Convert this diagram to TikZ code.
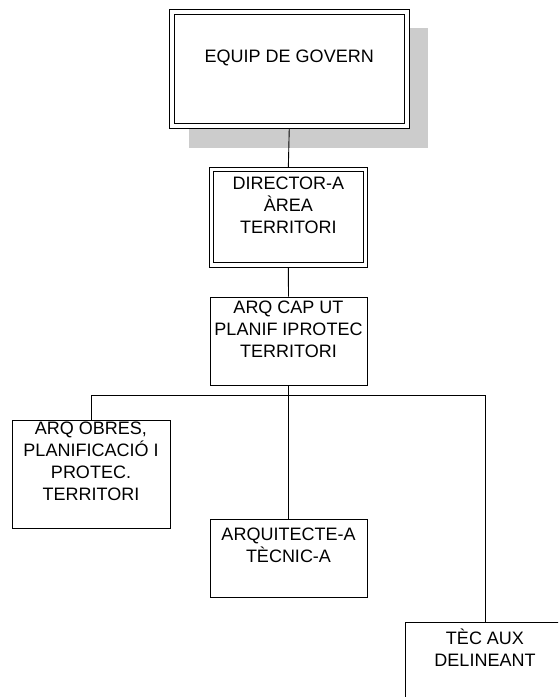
\documentclass[tikz,border=0pt]{standalone}
\usepackage{fontspec}
\setmainfont{Liberation Sans}
\newcommand{\bxt}[4]{\begin{minipage}[t][#2][t]{#1}\centering\vspace*{#3}#4\end{minipage}}
\tikzset{
  shade box/.style={fill=black!20, draw=none},
  sglbox/.style={draw, line width=0.9pt, fill=white, inner sep=0pt, rectangle},
  inner frame/.style={draw, line width=0.9pt},
  conn/.style={line width=0.9pt},
}
\begin{document}
\begin{tikzpicture}[x=1pt,y=-1pt,font=\fontsize{18}{22}\selectfont]
\useasboundingbox (0,0) rectangle (558,697);
\clip (0,0) rectangle (558,697);
% shadow
\fill[shade box] (189,28) rectangle (428,148);
% boxes
\node[sglbox] (gov) at (289.25,68.75) {\bxt{239.5pt}{118.7pt}{40.5pt}{EQUIP DE GOVERN}};
\draw[inner frame] ([shift={(5.3pt,-5.3pt)}]gov.north west) rectangle ([shift={(-5.3pt,5.3pt)}]gov.south east);
\node[sglbox] (dir) at (288.35,217.3) {\bxt{158.7pt}{100pt}{9.7pt}{DIRECTOR-A\\ ÀREA\\ TERRITORI}};
\draw[inner frame] ([shift={(5pt,-5pt)}]dir.north west) rectangle ([shift={(-5pt,5pt)}]dir.south east);
\node[sglbox] (cap) at (288.5,341.3) {\bxt{157pt}{88.6pt}{3.5pt}{ARQ CAP UT\\ PLANIF IPROTEC\\ TERRITORI}};
\node[sglbox] (obr) at (91,474) {\bxt{158pt}{108pt}{2pt}{ARQ OBRES,\\ PLANIFICACIÓ I\\ PROTEC.\\ TERRITORI}};
\node[sglbox] (tec) at (288.5,558) {\bxt{157pt}{78pt}{9pt}{ARQUITECTE-A\\ TÈCNIC-A}};
\node[sglbox] (aux) at (485,682) {\bxt{160pt}{120pt}{7pt}{TÈC AUX\\ DELINEANT}};
% connectors
\coordinate (bus) at (288.5,395.7);
\draw[conn] (gov.south) -- (dir.north);
\draw[conn] (dir.south) -- (cap.north);
\draw[conn] (cap.south) -- (bus);
\draw[conn] (bus) -- (tec.north);
\draw[conn] (bus) -| (obr.north);
\draw[conn] (bus) -| (aux.north);
\end{tikzpicture}
\end{document}
